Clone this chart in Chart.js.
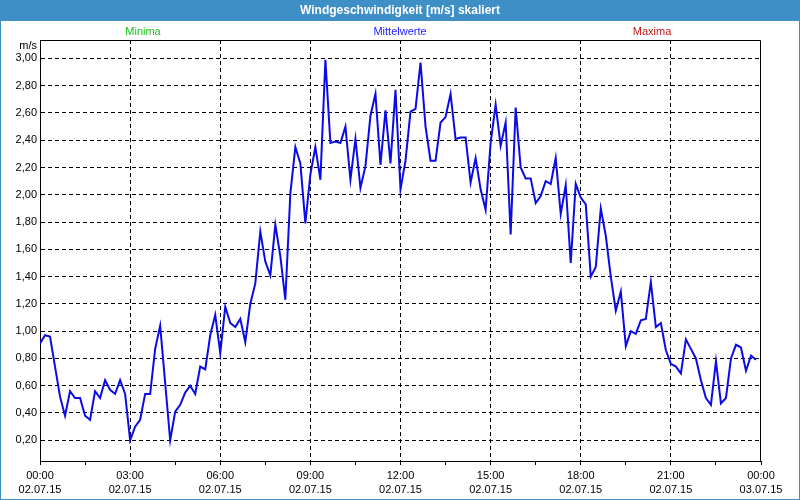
<!DOCTYPE html>
<html>
    <head>
        <meta charset="utf-8">
        <script src="https://cdn.jsdelivr.net/npm/chart.js"></script>
        <title>Windgeschwindigkeit</title>
        <style>
            body { margin: 0; background: #ffffff; }
            canvas { display: block; }
        </style>
    </head>
    <body>
        <canvas id="windChart" width="800" height="500"></canvas>

        <script>
            const chartTitle = 'Windgeschwindigkeit [m/s] skaliert';
            const unitLabel = 'm/s';
            const legendLabels = ['Minima', 'Mittelwerte', 'Maxima'];
            const legendColors = ['#17c617', '#1a1aff', '#c41616'];
            const legendCenters = [143, 400, 652];

            // Mittelwerte, one value every 10 minutes, 02.07.15 00:00 .. 23:50
            const stepMinutes = 10;
            const meanValues = [
                0.91, 0.97, 0.96, 0.74, 0.52, 0.38, 0.56, 0.51, 0.51, 0.38, 0.35, 0.56,
                0.51, 0.64, 0.57, 0.54, 0.64, 0.54, 0.20, 0.30, 0.35, 0.54, 0.54, 0.87,
                1.04, 0.62, 0.20, 0.41, 0.46, 0.55, 0.60, 0.54, 0.74, 0.72, 0.97, 1.12,
                0.84, 1.18, 1.06, 1.03, 1.09, 0.92, 1.20, 1.35, 1.73, 1.51, 1.41, 1.78,
                1.55, 1.23, 2.01, 2.35, 2.23, 1.79, 2.15, 2.35, 2.11, 2.99, 2.38, 2.39,
                2.38, 2.50, 2.11, 2.41, 2.05, 2.21, 2.58, 2.74, 2.22, 2.62, 2.23, 2.77,
                2.04, 2.25, 2.61, 2.63, 2.97, 2.50, 2.25, 2.25, 2.53, 2.57, 2.74, 2.41,
                2.42, 2.42, 2.09, 2.27, 2.04, 1.89, 2.38, 2.66, 2.36, 2.53, 1.71, 2.64,
                2.20, 2.12, 2.12, 1.94, 1.99, 2.10, 2.08, 2.27, 1.86, 2.07, 1.50, 2.08,
                1.98, 1.93, 1.40, 1.47, 1.90, 1.70, 1.40, 1.15, 1.29, 0.89, 1.00, 0.98,
                1.08, 1.09, 1.36, 1.03, 1.06, 0.86, 0.76, 0.74, 0.69, 0.94, 0.87, 0.80,
                0.64, 0.51, 0.46, 0.78, 0.47, 0.51, 0.80, 0.90, 0.88, 0.71, 0.82, 0.79
            ];

            const yTicks = [0.2, 0.4, 0.6, 0.8, 1.0, 1.2, 1.4, 1.6, 1.8, 2.0, 2.2, 2.4, 2.6, 2.8, 3.0];
            const xTickHours = [0, 1.5, 3, 4.5, 6, 7.5, 9, 10.5, 12, 13.5, 15, 16.5, 18, 19.5, 21, 22.5, 24];
            const xTimeLabels = ['00:00', '03:00', '06:00', '09:00', '12:00', '15:00', '18:00', '21:00', '00:00'];
            const xDateLabels = ['02.07.15', '02.07.15', '02.07.15', '02.07.15', '02.07.15', '02.07.15', '02.07.15', '02.07.15', '03.07.15'];

            const points = meanValues.map((v, i) => ({x: i * stepMinutes / 60, y: v}));

            const frameBlue = '#3d8fc6';
            const labelFont = '11px "Liberation Sans", Arial, sans-serif';

            const framePlugin = {
                id: 'frame',
                beforeDraw(chart) {
                    const c = chart.ctx;
                    c.save();
                    c.fillStyle = '#ffffff';
                    c.fillRect(0, 0, chart.width, chart.height);
                    c.fillStyle = frameBlue;
                    c.fillRect(0, 0, chart.width, 21);
                    c.strokeStyle = frameBlue;
                    c.lineWidth = 1;
                    c.strokeRect(0.5, 0.5, chart.width - 1, chart.height - 1);

                    c.textAlign = 'center';
                    c.textBaseline = 'middle';
                    c.fillStyle = '#ffffff';
                    c.font = 'bold 12px "Liberation Sans", Arial, sans-serif';
                    c.fillText(chartTitle, chart.width / 2, 11);

                    c.font = labelFont;
                    legendLabels.forEach((txt, i) => {
                        c.fillStyle = legendColors[i];
                        c.fillText(txt, legendCenters[i], 32);
                    });

                    c.textAlign = 'right';
                    c.fillStyle = '#000000';
                    c.fillText(unitLabel, chart.chartArea.left - 3, 46);
                    c.restore();
                },
                afterDraw(chart) {
                    const a = chart.chartArea;
                    const c = chart.ctx;
                    c.save();
                    c.strokeStyle = '#000000';
                    c.lineWidth = 1;
                    c.beginPath();
                    c.moveTo(a.left, a.top + 0.5);
                    c.lineTo(a.right - 0.5, a.top + 0.5);
                    c.lineTo(a.right - 0.5, a.bottom);
                    c.stroke();
                    c.restore();
                }
            };

            const ctx = document.getElementById('windChart').getContext('2d');

            const myChart = new Chart(ctx, {
                type: 'line',
                data: {
                    datasets: [
                        {
                            label: 'Mittelwerte',
                            data: points,
                            borderColor: '#0b0be8',
                            borderWidth: 2,
                            pointRadius: 0,
                            tension: 0,
                            fill: false
                        }
                    ]
                },
                options: {
                    responsive: false,
                    animation: false,
                    layout: {
                        padding: {top: 40, right: 39, bottom: 0, left: 0}
                    },
                    plugins: {
                        legend: {display: false},
                        tooltip: {enabled: false}
                    },
                    scales: {
                        x: {
                            type: 'linear',
                            min: 0,
                            max: 24,
                            afterBuildTicks: (s) => { s.ticks = xTickHours.map(v => ({value: v})); },
                            afterFit: (s) => { s.height = 39; },
                            ticks: {
                                autoSkip: false,
                                maxRotation: 0,
                                padding: 3,
                                color: '#000000',
                                font: {family: '"Liberation Sans", Arial, sans-serif', size: 11, lineHeight: 1.36},
                                callback: function(value) {
                                    if (value % 3 !== 0) return '';
                                    const k = value / 3;
                                    return [xTimeLabels[k], xDateLabels[k]];
                                }
                            },
                            grid: {
                                color: (c) => {
                                    const v = c.tick ? c.tick.value : -1;
                                    return (v % 3 === 0 && v > 0 && v < 24) ? '#000000' : 'rgba(0,0,0,0)';
                                },
                                tickColor: '#000000',
                                tickLength: 4,
                                lineWidth: 1
                            },
                            border: {color: '#000000', width: 1, dash: [4, 3]}
                        },
                        y: {
                            min: 0.048,
                            max: 3.135,
                            afterBuildTicks: (s) => { s.ticks = yTicks.map(v => ({value: v})); },
                            afterFit: (s) => { s.width = 40; },
                            ticks: {
                                autoSkip: false,
                                padding: 3,
                                color: '#000000',
                                font: {family: '"Liberation Sans", Arial, sans-serif', size: 11},
                                callback: (value) => value.toFixed(2).replace('.', ',')
                            },
                            grid: {
                                color: '#000000',
                                drawTicks: false,
                                lineWidth: 1
                            },
                            border: {color: '#000000', width: 1, dash: [4, 3]}
                        }
                    }
                },
                plugins: [framePlugin]
            });
        </script>
    </body>
</html>
